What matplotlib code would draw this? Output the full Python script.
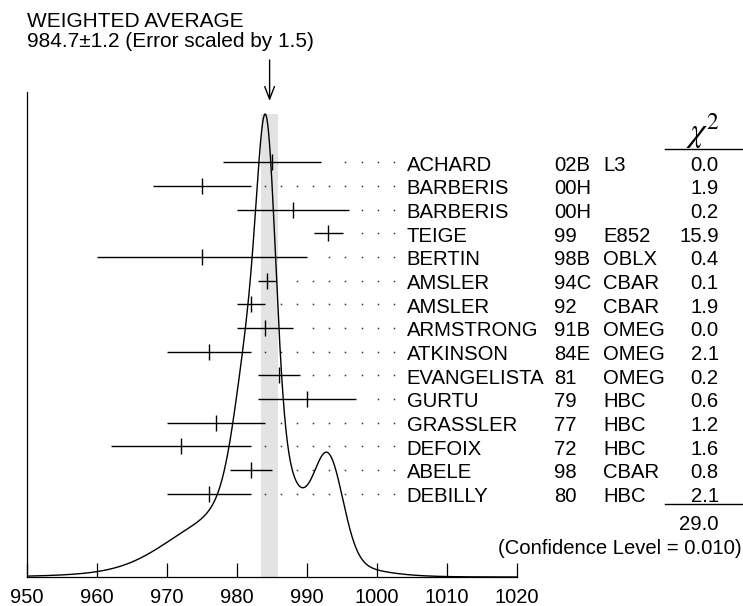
""" Ideogram of the measurements with the weighted average """
import numpy as np
import matplotlib
matplotlib.use("Agg")
from matplotlib import pyplot as plt

plt.rcParams["font.family"] = ["Liberation Sans", "DejaVu Sans"]

AVG = 984.7
AVG_ERR = 1.2
SCALE_FACTOR = "1.5"

names = ["ACHARD", "BARBERIS", "BARBERIS", "TEIGE", "BERTIN", "AMSLER", "AMSLER", "ARMSTRONG",
         "ATKINSON", "EVANGELISTA", "GURTU", "GRASSLER", "DEFOIX", "ABELE", "DEBILLY"]
years = ["02B", "00H", "00H", "99", "98B", "94C", "92", "91B", "84E", "81", "79", "77", "72", "98", "80"]
experiments = ["L3", "", "", "E852", "OBLX", "CBAR", "CBAR", "OMEG", "OMEG", "OMEG",
               "HBC", "HBC", "HBC", "CBAR", "HBC"]
values = [985.0, 975.0, 988.0, 993.1, 975.0, 984.3, 982.0, 984.0, 976.0, 986.0, 990.0, 977.0, 972.0, 982.0, 976.0]
errors = [7.0, 7.0, 8.0, 2.1, 15.0, 1.3, 2.0, 4.0, 6.0, 3.0, 7.0, 7.0, 10.0, 3.0, 6.0]
chi2 = ["0.0", "1.9", "0.2", "15.9", "0.4", "0.1", "1.9", "0.0", "2.1", "0.2", "0.6", "1.2", "1.6", "0.8", "2.1"]
chi2_total = "29.0"
conf_level = "0.010"

FS = 14.6
W, H = 743, 606


def px_x(p):
    """pixel column -> data x"""
    return 950 + (p - 26.7) / 7.0


vals = np.array(values)
errs = np.array(errors)
rows = np.arange(len(names))

# ideogram: one gaussian per measurement, area ~ 1/error
x = np.linspace(950, 1020, 1400)
ideo = np.zeros_like(x)
for v, e in zip(vals, errs):
    ideo += np.exp(-0.5 * ((x - v) / e) ** 2) / e ** 2
ideo /= ideo.max()

fig = plt.figure(figsize=(W / 100, H / 100), dpi=100)
ax = fig.add_axes([26.7 / W, 29 / H, 490 / W, 485 / H])

ax.fill_between([AVG - AVG_ERR, AVG + AVG_ERR], 0, 1, color="#e3e3e3", lw=0, zorder=0)
ax.plot(x, ideo, color="black", lw=1.0, zorder=2)
ax.set_xlim(950, 1020)
ax.set_ylim(0, 485 / 463)
ax.spines["top"].set_visible(False)
ax.spines["right"].set_visible(False)
ax.spines["left"].set_linewidth(0.9)
ax.spines["bottom"].set_linewidth(0.9)
ax.set_xticks(np.arange(950, 1021, 10))
ax.set_yticks([])
ax.tick_params(axis="x", direction="in", length=10, width=0.9, labelsize=14.5, pad=8)

ax.annotate("", xy=(AVG, 476 / 463), xytext=(AVG, 517 / 463), annotation_clip=False,
            arrowprops=dict(arrowstyle="->,head_length=0.9,head_width=0.35", lw=1.0,
                            color="black", shrinkA=0, shrinkB=0))

# second axis in row units for the measurement list
ax2 = ax.twinx()
ax2.set_ylim(17.52, -2.97)
ax2.axis("off")

ax2.hlines(rows, vals - errs, vals + errs, color="black", lw=1.0)
ax2.plot(vals, rows, ls="none", marker="|", ms=12, mew=1.0, color="black")

dot_x = 984.04 + 2.3 * np.arange(9)
for i in rows:
    xs = dot_x[dot_x > vals[i] + errs[i] + 1.5]
    ax2.plot(xs, np.full(len(xs), i), ls="none", marker="s", ms=1.1, mew=0, color="#333333")

for i in rows:
    y = i + 0.355
    ax2.text(px_x(406.7), y, names[i], fontsize=FS, va="baseline")
    ax2.text(px_x(554.3), y, years[i], fontsize=FS, va="baseline")
    ax2.text(px_x(603.3), y, experiments[i], fontsize=FS, va="baseline")
    ax2.text(px_x(718.8), y, chi2[i], fontsize=FS, va="baseline", ha="right")

ax2.text(px_x(703.3), -0.9, r"$\chi^2$", math_fontfamily="stix", fontsize=24, ha="center", va="baseline")
ax2.plot([px_x(665), px_x(741.7)], [-0.549, -0.549], color="black", lw=1.0, clip_on=False)
ax2.plot([px_x(665), px_x(741.7)], [14.449, 14.449], color="black", lw=1.0, clip_on=False)
ax2.text(px_x(718.8), 15.53, chi2_total, fontsize=FS, va="baseline", ha="right")
ax2.text(px_x(741.7), 16.55, f"(Confidence Level = {conf_level})", fontsize=FS, va="baseline", ha="right")

fig.text(26.7 / W, 1 - 26.7 / H, "WEIGHTED AVERAGE", fontsize=15, va="baseline")
fig.text(26.7 / W, 1 - 46.7 / H, f"{AVG}\u00b1{AVG_ERR} (Error scaled by {SCALE_FACTOR})", fontsize=15, va="baseline")

fig.savefig("out.png", dpi=100)
